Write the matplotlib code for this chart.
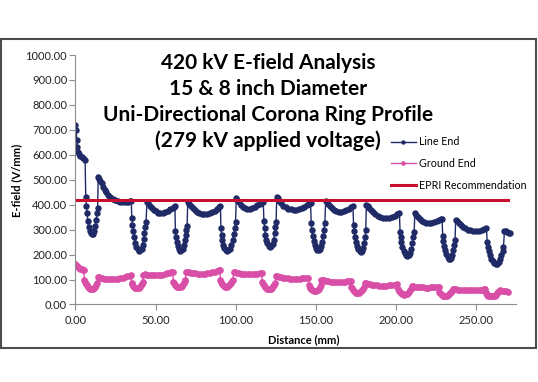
import matplotlib
matplotlib.use('Agg')
import matplotlib.pyplot as plt
from matplotlib.patches import Rectangle
from matplotlib.ticker import FormatStrFormatter
import numpy as np

plt.rcParams['font.family'] = ['Lato', 'DejaVu Sans']

title_lines = ['420 kV E-field Analysis',
               '15 & 8 inch Diameter',
               'Uni-Directional Corona Ring Profile',
               '(279 kV applied voltage)']

# distance (mm), E-field (V/mm)
line_end = np.array([
    (0, 720), (0.4, 700), (0.8, 660), (1.2, 630), (1.6, 612), (2.2, 602), (3, 596), (4, 590), (5, 586), (6, 580),
    (6.4, 430), (6.8, 395), (7.2, 365), (7.7, 335), (8.2, 312), (8.8, 296), (9.5, 285), (10.3, 281), (11.1, 284),
    (11.8, 295), (12.4, 315), (12.9, 340), (13.4, 365), (13.8, 385),
    (14.2, 510), (14.8, 505), (15.5, 496), (16.3, 485), (17.2, 472), (18.2, 460), (19.3, 449), (20.5, 440),
    (21.8, 431), (23.2, 423), (24.7, 417), (26.3, 413), (28, 410), (29.7, 409), (31.3, 409), (32.8, 411),
    (34, 413), (34.8, 415),
    (35.1, 345), (35.5, 320), (36, 295), (36.6, 270), (37.3, 248), (38, 232), (38.8, 221), (39.6, 216),
    (40.4, 217), (41.2, 224), (41.9, 240), (42.5, 262), (43, 285), (43.5, 310), (44, 330),
    (44.6, 412), (45.4, 405), (46.4, 396), (47.5, 387), (48.7, 379), (50, 373), (51.5, 368), (53, 366),
    (54.5, 366), (56, 369), (57.5, 375), (59, 382), (60.5, 388), (61.5, 392), (62, 393),
    (62.3, 295), (62.7, 272), (63.2, 250), (63.8, 233), (64.5, 222), (65.3, 216), (66.1, 217), (66.9, 224),
    (67.6, 238), (68.2, 258), (68.7, 280), (69.2, 300), (69.6, 315),
    (70, 410), (70.8, 402), (71.8, 393), (73, 385), (74.3, 378), (75.7, 372), (77.2, 367), (78.8, 364),
    (80.4, 363), (82, 363), (83.6, 365), (85.2, 369), (86.8, 375), (88.3, 383), (89.5, 390), (90.4, 396),
    (90.7, 305), (91.1, 280), (91.6, 258), (92.2, 240), (92.9, 226), (93.7, 218), (94.5, 215), (95.4, 217),
    (96.3, 224), (97.2, 238), (98, 258), (98.7, 282), (99.3, 305), (99.8, 330),
    (100.3, 428), (101, 420), (101.9, 410), (103, 400), (104.2, 392), (105.5, 387), (107, 384), (108.6, 384),
    (110.2, 387), (111.8, 392), (113.4, 398), (115, 404), (116.3, 409), (117.1, 411),
    (117.5, 335), (117.9, 305), (118.4, 280), (119, 260), (119.7, 245), (120.5, 235), (121.3, 231),
    (122.1, 233), (122.9, 242), (123.6, 260), (124.2, 285), (124.7, 310), (125.1, 330),
    (125.5, 432), (126.2, 425), (127.1, 415), (128.2, 405), (129.5, 396), (131, 389), (132.6, 384),
    (134.3, 381), (136, 380), (137.7, 380), (139.4, 382), (141.1, 386), (142.8, 392), (144.4, 398),
    (145.8, 404), (146.6, 406),
    (147, 325), (147.4, 300), (147.9, 275), (148.5, 255), (149.2, 238), (150, 225), (150.8, 218),
    (151.6, 217), (152.4, 222), (153.2, 234), (153.9, 252), (154.5, 275), (155, 300), (155.5, 328),
    (156, 415), (156.7, 410), (157.6, 402), (158.7, 394), (159.9, 386), (161.2, 379), (162.6, 374),
    (164.2, 371), (165.8, 371), (167.4, 373), (169, 378), (170.6, 384), (172, 390), (173, 394),
    (173.4, 320), (173.8, 296), (174.3, 272), (174.9, 252), (175.6, 235), (176.4, 222), (177.2, 214),
    (178, 212), (178.8, 216), (179.5, 228), (180.1, 248), (180.6, 272), (181, 300),
    (181.4, 400), (182.1, 394), (183, 386), (184.1, 377), (185.4, 369), (186.9, 362), (188.5, 356),
    (190.2, 351), (192, 348), (193.8, 347), (195.6, 348), (197.4, 351), (199.2, 356), (200.8, 361), (202, 365),
    (202.4, 292), (202.8, 270), (203.3, 250), (203.9, 232), (204.6, 216), (205.4, 205), (206.2, 198),
    (207, 196), (207.8, 199), (208.6, 208), (209.4, 224), (210.1, 245), (210.7, 270), (211.2, 292),
    (211.6, 365), (212.4, 358), (213.4, 350), (214.6, 342), (215.9, 335), (217.3, 330), (218.8, 326),
    (220.4, 325), (222, 326), (223.6, 329), (225.2, 333), (226.8, 338), (228, 341), (228.6, 342),
    (229, 275), (229.4, 255), (229.9, 235), (230.5, 218), (231.2, 202), (232, 191), (232.8, 184),
    (233.6, 183), (234.4, 188), (235.1, 200), (235.7, 220), (236.2, 240), (236.7, 260),
    (237.1, 340), (237.9, 334), (238.9, 326), (240.1, 318), (241.4, 311), (242.9, 305), (244.5, 300),
    (246.2, 297), (248, 295), (249.8, 295), (251.6, 296), (253.3, 299), (255, 303), (256.3, 306),
    (256.7, 250), (257.1, 232), (257.7, 214), (258.4, 198), (259.2, 184), (260.1, 173), (261, 166),
    (262, 163), (263, 164), (263.9, 170), (264.8, 182), (265.6, 198), (266.3, 215), (266.9, 232),
    (267.5, 295), (268.3, 293), (269.2, 290), (270.1, 287), (271, 285),
])

ground_end = np.array([
    (0, 162), (0.5, 158), (1, 154), (1.6, 150), (2.3, 147), (3, 144), (3.8, 141), (4.5, 139), (5.2, 137),
    (5.5, 100), (5.9, 92), (6.4, 84), (7, 77), (7.7, 71), (8.5, 66), (9.3, 63), (10.1, 62), (10.9, 63),
    (11.7, 67), (12.4, 72), (13, 78), (13.5, 85),
    (14, 110), (14.7, 109), (15.6, 107), (16.6, 105), (17.8, 104), (19.1, 103), (20.5, 102), (22, 102),
    (23.5, 102), (25, 103), (26.5, 104), (28, 105), (29.5, 107), (31, 110), (32.4, 113), (33.7, 116), (34.6, 118),
    (35, 88), (35.4, 81), (35.9, 75), (36.5, 70), (37.2, 67), (38, 65), (38.8, 65), (39.6, 67), (40.3, 71),
    (40.9, 77), (41.4, 84), (41.9, 90),
    (42.4, 120), (43.2, 121), (44.3, 120), (45.5, 119), (46.8, 118), (48.2, 118), (49.7, 118), (51.2, 118),
    (52.7, 119), (54.2, 120), (55.7, 122), (57.2, 125), (58.6, 128), (59.8, 131), (60.6, 132),
    (61, 92), (61.4, 85), (61.9, 79), (62.5, 74), (63.2, 71), (64, 69), (64.8, 69), (65.6, 71), (66.3, 75),
    (66.9, 81), (67.5, 88), (68.1, 95), (68.6, 100),
    (69, 130), (69.8, 131), (70.9, 130), (72.1, 128), (73.4, 126), (74.8, 125), (76.3, 124), (77.8, 124),
    (79.3, 124), (80.8, 124), (82.3, 125), (83.8, 127), (85.3, 129), (86.8, 132), (88.2, 135), (89.4, 137), (90, 138),
    (90.4, 98), (90.8, 91), (91.3, 84), (91.9, 78), (92.6, 74), (93.4, 72), (94.2, 72), (95, 73), (95.8, 77),
    (96.5, 82), (97.1, 88), (97.7, 95), (98.2, 100),
    (98.7, 130), (99.5, 130), (100.6, 128), (101.8, 126), (103.1, 124), (104.5, 122), (106, 121), (107.5, 121),
    (109, 121), (110.5, 122), (112, 123), (113.5, 124), (115, 125), (116, 126),
    (116.4, 92), (116.8, 84), (117.3, 77), (117.9, 71), (118.6, 66), (119.4, 62), (120.2, 61), (121, 61),
    (121.8, 63), (122.6, 67), (123.3, 73), (123.9, 80), (124.5, 88),
    (125, 114), (125.8, 113), (126.9, 111), (128.1, 109), (129.4, 107), (130.8, 106), (132.3, 105),
    (133.8, 104), (135.3, 104), (136.8, 104), (138.3, 104), (139.8, 104), (141.3, 105), (142.8, 106),
    (144.2, 107), (145.2, 108),
    (145.6, 78), (146, 72), (146.5, 67), (147.1, 62), (147.8, 58), (148.6, 56), (149.4, 55), (150.2, 56),
    (151, 59), (151.7, 64), (152.3, 70), (152.9, 77),
    (153.3, 100), (154.1, 99), (155.2, 97), (156.4, 95), (157.7, 93), (159.1, 92), (160.6, 91), (162.1, 90),
    (163.6, 90), (165.1, 90), (166.6, 91), (168.1, 92), (169.6, 94), (170.8, 95), (171.5, 96),
    (171.9, 72), (172.3, 66), (172.8, 60), (173.4, 55), (174.1, 51), (174.9, 48), (175.7, 47), (176.5, 47),
    (177.3, 49), (178.1, 53), (178.8, 58), (179.4, 64), (180, 70),
    (180.6, 86), (181.4, 85), (182.5, 83), (183.7, 81), (185, 79), (186.4, 78), (187.9, 77), (189.4, 76),
    (190.9, 76), (192.4, 76), (193.9, 76), (195.4, 77), (196.9, 78), (198.4, 79), (199.8, 80), (200.8, 81),
    (201.2, 62), (201.6, 56), (202.1, 51), (202.7, 46), (203.4, 43), (204.2, 41), (205, 40), (205.8, 41),
    (206.6, 43), (207.4, 47), (208.1, 52), (208.7, 57), (209.2, 62),
    (209.7, 75), (210.5, 74), (211.6, 72), (212.8, 71), (214.1, 70), (215.5, 69), (217, 69), (218.5, 68),
    (220, 68), (221.5, 69), (223, 69), (224.5, 70), (225.8, 71), (226.5, 72),
    (226.9, 52), (227.3, 47), (227.8, 43), (228.4, 39), (229.1, 36), (229.9, 35), (230.7, 34), (231.5, 35),
    (232.3, 37), (233.1, 41), (233.8, 46), (234.4, 51), (234.9, 55),
    (235.4, 63), (236.2, 62), (237.3, 61), (238.6, 60), (240, 59), (241.5, 58), (243, 58), (244.5, 58),
    (246, 58), (247.5, 58), (249, 58), (250.5, 59), (252, 59), (253.5, 60), (254.8, 61), (255.6, 61),
    (256, 47), (256.4, 43), (256.9, 39), (257.5, 36), (258.2, 34), (259, 33), (259.8, 33), (260.6, 34),
    (261.4, 36), (262.2, 40), (262.9, 45), (263.5, 50),
    (264, 56), (265, 57), (266.2, 56), (267.4, 55), (268.6, 53), (269.8, 51),
])

epri_x = [0, 270]
epri_y = [420, 420]

fig = plt.figure(figsize=(5.38, 3.82), dpi=100)
fig.patches.append(Rectangle((0.002, 0.089), 0.995, 0.809, transform=fig.transFigure,
                             fill=False, edgecolor='#4d4d4d', linewidth=1.5))

ax = fig.add_axes([0.1403, 0.2029, 0.8197, 0.6531])

ax.plot(line_end[:, 0], line_end[:, 1], color='#1f2a66', lw=1.0, marker='o', ms=3.6,
        mec='#1f2a66', label='Line End')
ax.plot(ground_end[:, 0], ground_end[:, 1], color='#d94fa8', lw=1.0, marker='o', ms=3.8,
        mec='#d94fa8', label='Ground End')
ax.plot(epri_x, epri_y, color='#c8102e', lw=2.2, label='EPRI Recommendation')

ax.set_xlim(0, 275)
ax.set_ylim(0, 1000)
ax.set_xticks(range(0, 251, 50))
ax.set_yticks(range(0, 1001, 100))
ax.xaxis.set_major_formatter(FormatStrFormatter('%.2f'))
ax.yaxis.set_major_formatter(FormatStrFormatter('%.2f'))
for s in ['top', 'right']:
    ax.spines[s].set_visible(False)
for s in ['left', 'bottom']:
    ax.spines[s].set_color('#8c8c8c')
ax.tick_params(axis='both', direction='out', length=4.5, color='#8c8c8c', labelsize=8, labelcolor='#222222')
ax.tick_params(axis='y', pad=1.5)
ax.tick_params(axis='x', pad=3)

fig.text(16.5 / 538, 0.528, 'E-field (V/mm)', rotation=90, ha='center', va='center',
         fontsize=8, fontweight='bold')
fig.text(0.5645, 0.111, 'Distance (mm)', ha='center', va='center', fontsize=8, fontweight='bold')

for txt, yf in zip(title_lines, [0.8356, 0.7683, 0.6990, 0.6317]):
    fig.text(0.498, yf, txt, ha='center', va='center', fontsize=15, fontweight='bold')

ax.legend(loc='upper left', bbox_to_anchor=(0.7268, 0.6427), bbox_transform=fig.transFigure,
          frameon=False, fontsize=7.7, handlelength=2.3, handletextpad=0.3, labelspacing=1.0,
          borderpad=0, borderaxespad=0, numpoints=1, markerscale=0.6)

fig.savefig('out.png', dpi=100)
